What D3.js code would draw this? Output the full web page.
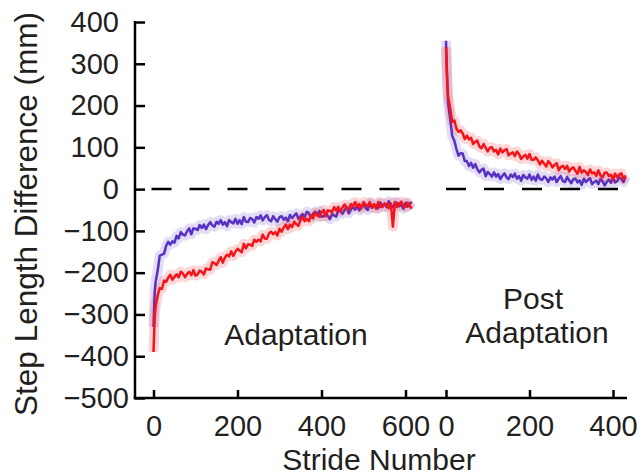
<!DOCTYPE html>
<html lang="en">
<head>
<meta charset="utf-8">
<title>Step Length Difference</title>
<script src="https://cdnjs.cloudflare.com/ajax/libs/d3/7.8.5/d3.min.js"></script>
<style>
body { margin: 0; background: #fff; }
text { font-family: Arial, "Liberation Sans", sans-serif; fill: #231f20; }
.tick line, .axis-line { stroke: #000; stroke-width: 2.5px; }
.zero { stroke: #000; stroke-width: 2.5px; stroke-dasharray: 20,18; }
.shade { fill: none; stroke-width: 10px; stroke-opacity: 0.17; stroke-linejoin: round; }
.trace { fill: none; stroke-width: 2.5px; stroke-linejoin: round; }
</style>
</head>
<body>
<script>
// stride numbers sampled; a few extra at the very start where the curves drop fast
var adaptStride = [0,1,2,3].concat(d3.range(5, 616, 5));
var adaptBlue = [-330,-300,-268,-245,
 -222,-195,-159,-157,-155,-136,-126,-133,-125,-128,-112,-118,-103,-109,-111,-101,-94,-108,-94,-95,
 -98,-86,-93,-85,-96,-86,-79,-87,-90,-78,-83,-74,-85,-79,-89,-74,-79,-82,-71,-83,
 -74,-84,-67,-78,-79,-69,-72,-80,-67,-71,-63,-75,-67,-62,-74,-77,-65,-72,-78,-67,
 -65,-73,-68,-77,-62,-69,-63,-58,-71,-65,-60,-67,-54,-58,-68,-59,-54,-63,-52,-66,
 -65,-58,-64,-72,-60,-63,-66,-50,-53,-59,-50,-43,-58,-48,-43,-49,-39,-51,-43,-38,
 -45,-50,-33,-45,-38,-40,-46,-32,-40,-36,-43,-29,-40,-43,-32,-33,-41,-38,-47,-33,
 -42,-35,-31];
var adaptRed = [-390,-360,-330,-305,
 -280,-254,-237,-239,-219,-222,-212,-205,-217,-210,-204,-211,-198,-202,-211,-203,-198,-206,-194,-207,
 -204,-195,-198,-204,-190,-192,-193,-175,-177,-182,-172,-163,-176,-164,-157,-161,-149,-160,-150,-143,
 -147,-151,-131,-142,-132,-133,-136,-121,-126,-121,-125,-109,-118,-119,-106,-102,-108,-103,-111,-95,
 -102,-92,-85,-96,-85,-91,-78,-84,-88,-74,-67,-77,-71,-77,-63,-70,-56,-63,-66,-56,
 -50,-65,-51,-52,-55,-43,-51,-43,-54,-44,-37,-45,-48,-36,-41,-31,-42,-36,-46,-31,
 -37,-41,-31,-44,-36,-47,-31,-42,-43,-34,-37,-46,-34,-90,-31,-43,-35,-30,-41,-43,
 -32,-40,-47];

var postStride = [0,1,2,3,4,5].concat(d3.range(10, 431, 5));
var postBlue = [355,320,285,255,228,205,
 168,127,116,96,80,86,85,67,67,55,63,51,60,48,40,46,49,31,41,36,
 30,40,30,36,24,32,38,28,24,35,29,37,25,31,20,34,28,25,35,22,
 30,20,35,24,22,30,26,17,28,23,30,17,25,31,19,17,29,21,14,24,
 25,16,21,10,25,17,22,26,12,17,20,12,24,19,9,17,23,15,28,16,
 19,28,24,17,29];
var postRed = [340,315,285,260,240,222,
 193,161,164,145,137,141,133,120,128,119,123,108,113,116,102,98,108,99,90,99,
 100,90,94,83,97,88,93,96,81,85,88,79,90,84,72,78,82,73,84,70,
 70,76,69,59,68,61,54,67,61,52,58,62,45,53,56,48,56,42,49,52,
 44,37,53,39,45,41,34,47,38,40,32,45,33,28,39,40,32,34,24,37,
 28,34,38,24,33];

var yTicks = [400,300,200,100,0,-100,-200,-300,-400,-500];
var adaptTicks = [0,200,400,600];
var postTicks = [0,200,400];

var w = 642, h = 476;
var svg = d3.select("body").append("svg").attr("width", w).attr("height", h);

var y = d3.scaleLinear().domain([-500, 400]).range([398, 22]);
var xA = d3.scaleLinear().domain([0, 600]).range([153.5, 405.5]);
var xP = d3.scaleLinear().domain([0, 400]).range([446, 613]);
var axisX = 135, baseY = 398;

var blue = "#5632c4", red = "#f5141a";

// zero reference lines
svg.append("line").attr("class", "zero")
    .attr("x1", xA(0) - 2).attr("x2", xA(600)).attr("y1", y(0)).attr("y2", y(0));
svg.append("line").attr("class", "zero")
    .attr("x1", xP(0)).attr("x2", xP(415)).attr("y1", y(0)).attr("y2", y(0));

function drawTrace(xs, strides, vals, col) {
    var pts = strides.map(function(s, i) { return [s, vals[i]]; });
    var line = d3.line()
        .defined(function(d) { return d[1] != null; })
        .x(function(d) { return xs(d[0]); })
        .y(function(d) { return y(d[1]); });
    svg.append("path").datum(pts).attr("class", "shade").attr("stroke", col).attr("d", line);
    svg.append("path").datum(pts).attr("class", "trace").attr("stroke", col).attr("d", line);
}
drawTrace(xA, adaptStride, adaptBlue, blue);
drawTrace(xA, adaptStride, adaptRed, red);
drawTrace(xP, postStride, postBlue, blue);
drawTrace(xP, postStride, postRed, red);

// y axis
var gy = svg.append("g").attr("transform", "translate(" + axisX + ",0)")
    .call(d3.axisLeft(y).tickValues(yTicks).tickSizeInner(-10).tickSizeOuter(0).tickPadding(16)
          .tickFormat(function(d) { return d < 0 ? "\u2212" + Math.abs(d) : d; }));
gy.select(".domain").remove();
gy.selectAll("text").style("font-size", "29px").attr("fill", "#231f20")
    .attr("dx", function(d) { return d < 0 ? 10 : 0; });

// x axes
function xAxis(xs, ticks) {
    var g = svg.append("g").attr("transform", "translate(0," + baseY + ")")
        .call(d3.axisBottom(xs).tickValues(ticks).tickSizeInner(-8).tickSizeOuter(0).tickPadding(17));
    g.select(".domain").remove();
    g.selectAll("text").style("font-size", "29px").attr("fill", "#231f20");
}
xAxis(xA, adaptTicks);
xAxis(xP, postTicks);

svg.append("line").attr("class", "axis-line")
    .attr("x1", axisX).attr("x2", axisX).attr("y1", 21).attr("y2", baseY + 1.25);
svg.append("line").attr("class", "axis-line")
    .attr("x1", axisX - 1.25).attr("x2", 627).attr("y1", baseY).attr("y2", baseY);

// titles
svg.append("text").text("Stride Number")
    .attr("x", 379).attr("y", 470).attr("text-anchor", "middle").style("font-size", "30px");
svg.append("text").text("Step Length Difference (mm)")
    .attr("transform", "translate(37,214) rotate(-90)")
    .attr("text-anchor", "middle").style("font-size", "31.5px");

svg.append("text").text("Adaptation")
    .attr("x", 296).attr("y", 345).attr("text-anchor", "middle").style("font-size", "30px");
svg.append("text").text("Post")
    .attr("x", 533).attr("y", 309).attr("text-anchor", "middle").style("font-size", "30px");
svg.append("text").text("Adaptation")
    .attr("x", 537).attr("y", 343).attr("text-anchor", "middle").style("font-size", "30px");
</script>
</body>
</html>
